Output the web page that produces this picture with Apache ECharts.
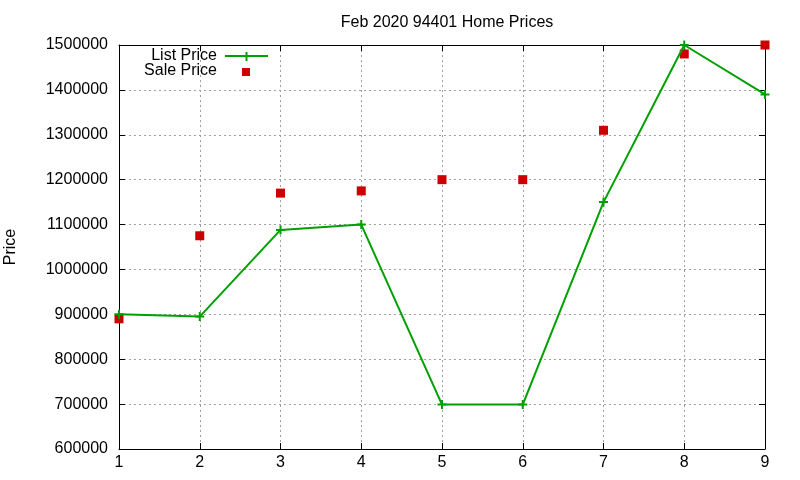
<!DOCTYPE html>
<html><head><meta charset="utf-8">
<script src="https://cdn.jsdelivr.net/npm/echarts@6/dist/echarts.min.js"></script>
<style>html,body{margin:0;padding:0;background:#fff}#c{width:800px;height:480px}</style>
</head><body><div id="c"></div>
<script>
const titleText = 'Feb 2020 94401 Home Prices';
const yName = 'Price';
const xValues = [1, 2, 3, 4, 5, 6, 7, 8, 9];
const listPrice = [900000, 895000, 1088000, 1100000, 699000, 699000, 1150000, 1500000, 1390000];
const salePrice = [890000, 1075000, 1170000, 1175000, 1200000, 1200000, 1310000, 1480000, 1500000];
const seriesNames = ['List Price', 'Sale Price'];

const FONT = 'Liberation Sans, Arial, sans-serif';
const GREEN = '#00a000';
const RED = '#cc0000';
const plus = 'path://M3.5,0H5.5V3.5H9V5.5H5.5V9H3.5V5.5H0V3.5H3.5Z';

const chart = echarts.init(document.getElementById('c'), null, {renderer: 'canvas'});
const gridLine = {show: true, lineStyle: {color: '#a0a0a0', type: [2, 3], width: 1}};
const axisLineS = {show: true, onZero: false, lineStyle: {color: '#000', width: 1}};
const tickS = {show: true, inside: true, length: 6, lineStyle: {color: '#000'}};
chart.setOption({
  animation: false,
  backgroundColor: '#fff',
  title: {text: titleText, left: 442, top: 10, textAlign: 'center',
    textStyle: {fontFamily: FONT, fontSize: 16, fontWeight: 'normal', color: '#000'}},
  grid: {left: 119, right: 35, top: 45, bottom: 31, containLabel: false, outerBoundsMode: 'none'},
  xAxis: [
    {type: 'value', min: 1, max: 9, interval: 1, position: 'bottom',
     axisLine: axisLineS, axisTick: tickS, splitLine: gridLine,
     axisLabel: {fontFamily: FONT, fontSize: 16, color: '#000', margin: 6, formatter: v => String(v)}},
    {type: 'value', min: 1, max: 9, interval: 1, position: 'top',
     axisLine: axisLineS, axisTick: tickS, splitLine: {show: false}, axisLabel: {show: false}}
  ],
  yAxis: [
    {type: 'value', min: 600000, max: 1500000, interval: 100000, position: 'left',
     name: yName, nameLocation: 'middle', nameGap: 100, nameRotate: 90,
     nameTextStyle: {fontFamily: FONT, fontSize: 16, color: '#000'},
     axisLine: axisLineS, axisTick: tickS, splitLine: gridLine,
     axisLabel: {fontFamily: FONT, fontSize: 16, color: '#000', margin: 11, formatter: v => String(v)}},
    {type: 'value', min: 600000, max: 1500000, interval: 100000, position: 'right',
     axisLine: axisLineS, axisTick: tickS, splitLine: {show: false}, axisLabel: {show: false}}
  ],
  series: [
    {name: seriesNames[0], type: 'line', data: xValues.map((x, i) => [x, listPrice[i]]),
     symbol: plus, symbolSize: 9, showSymbol: true, clip: false,
     lineStyle: {color: GREEN, width: 2}, itemStyle: {color: GREEN, opacity: 1}},
    {name: seriesNames[1], type: 'scatter', data: xValues.map((x, i) => [x, salePrice[i]]),
     symbol: 'rect', symbolSize: 9, clip: false, itemStyle: {color: RED, opacity: 1}}
  ],
  graphic: [
    {type: 'text', x: 217, y: 56, style: {text: seriesNames[0], fontFamily: FONT, fontSize: 16, fill: '#000', align: 'right', verticalAlign: 'middle'}},
    {type: 'line', shape: {x1: 225, y1: 56, x2: 268, y2: 56}, style: {stroke: GREEN, lineWidth: 2}},
    {type: 'rect', shape: {x: 245.5, y: 52, width: 2, height: 9}, style: {fill: GREEN}},
    {type: 'text', x: 217, y: 71, style: {text: seriesNames[1], fontFamily: FONT, fontSize: 16, fill: '#000', align: 'right', verticalAlign: 'middle'}},
    {type: 'rect', shape: {x: 242, y: 68, width: 8, height: 8}, style: {fill: RED}}
  ]
});
</script></body></html>
